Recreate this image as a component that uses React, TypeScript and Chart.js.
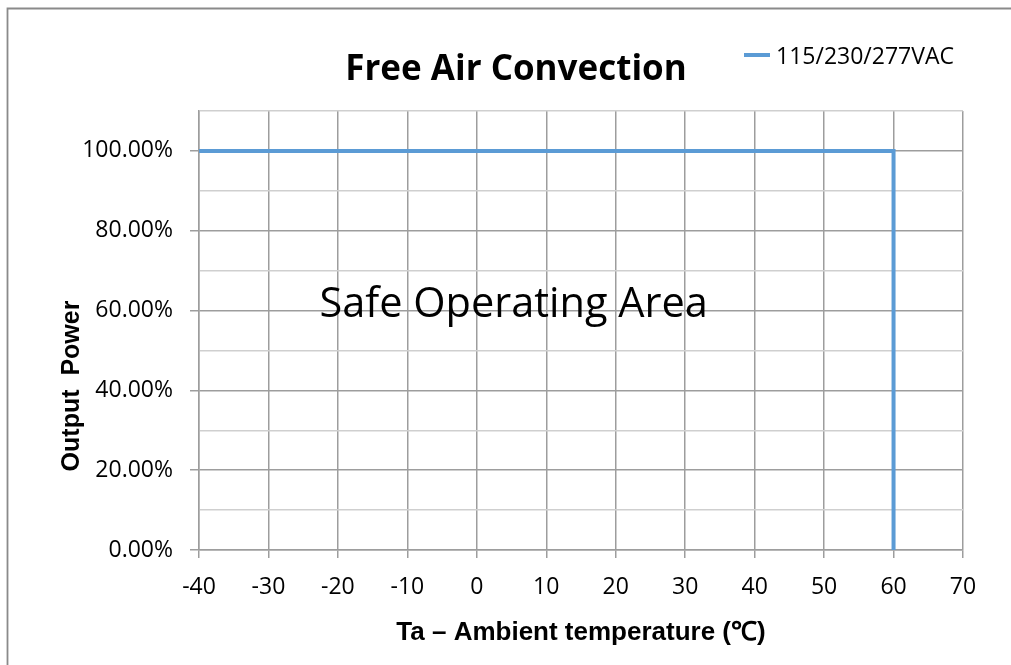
import React, { useEffect, useRef } from "react";
import { Chart, registerables } from "chart.js";

Chart.register(...registerables);

const seriesName = "115/230/277VAC";
const tempValues = [-40, 60, 60];
const powerValues = [100, 100, 0];
const chartTitle = "Free Air Convection";
const xAxisTitle = "Ta – Ambient temperature (℃)";
const yAxisTitle = "Output  Power";
const annotationText = "Safe Operating Area";
const annotationX = 5.3;
const annotationY = 58.4;

const W = 1011;
const H = 665;
const LINE_COLOR = "#5B9BD5";
const MAJOR = "#9d9d9d";
const MINOR = "#cfcfcf";
const TICK_FONT = "'Open Sans', sans-serif";
const AXIS_FONT = "'Liberation Sans', Arial, sans-serif";

const decorPlugin = {
  id: "decor",
  beforeDraw(chart: any) {
    const ctx = chart.ctx;
    ctx.save();
    ctx.fillStyle = "#ffffff";
    ctx.fillRect(0, 0, W, H);
    ctx.strokeStyle = "#8a8a8a";
    ctx.lineWidth = 1.8;
    ctx.beginPath();
    ctx.moveTo(7.5, H + 5);
    ctx.lineTo(7.5, 8.5);
    ctx.lineTo(W + 5, 8.5);
    ctx.stroke();
    ctx.restore();
  },
  afterDraw(chart: any) {
    const ctx = chart.ctx;
    const xs = chart.scales.x;
    const ys = chart.scales.y;
    ctx.save();
    // title
    ctx.fillStyle = "#000000";
    ctx.font = `bold 35px ${TICK_FONT}`;
    ctx.textAlign = "center";
    ctx.textBaseline = "alphabetic";
    ctx.fillText(chartTitle, 516, 80);
    // legend
    ctx.strokeStyle = LINE_COLOR;
    ctx.lineWidth = 4;
    ctx.beginPath();
    ctx.moveTo(744, 55);
    ctx.lineTo(770, 55);
    ctx.stroke();
    ctx.font = `23px ${TICK_FONT}`;
    ctx.textAlign = "left";
    ctx.fillText(seriesName, 776, 64);
    // annotation
    ctx.font = `41.5px ${TICK_FONT}`;
    ctx.textAlign = "center";
    ctx.fillText(
      annotationText,
      xs.getPixelForValue(annotationX),
      ys.getPixelForValue(annotationY)
    );
    // y axis title
    ctx.font = `bold 25px ${AXIS_FONT}`;
    ctx.translate(72, 386);
    ctx.rotate(-Math.PI / 2);
    ctx.textAlign = "center";
    ctx.textBaseline = "middle";
    ctx.fillText(yAxisTitle, 0, 0);
    ctx.restore();
  },
};

export default function App() {
  const ref = useRef<HTMLCanvasElement | null>(null);

  useEffect(() => {
    if (!ref.current) return;
    const chart = new Chart(ref.current, {
      type: "line",
      data: {
        datasets: [
          {
            label: seriesName,
            data: tempValues.map((t, i) => ({ x: t, y: powerValues[i] })),
            borderColor: LINE_COLOR,
            backgroundColor: LINE_COLOR,
            borderWidth: 4,
            pointRadius: 0,
            tension: 0,
            fill: false,
          },
        ],
      },
      options: {
        responsive: false,
        animation: false,
        devicePixelRatio: 1,
        layout: { padding: { left: 0, top: 111, right: 48, bottom: 0 } },
        plugins: {
          legend: { display: false },
          title: { display: false },
          tooltip: { enabled: false },
        },
        scales: {
          x: {
            type: "linear",
            min: -40,
            max: 70,
            afterFit: (s: any) => {
              s.height = 115;
            },
            ticks: {
              stepSize: 10,
              padding: 16,
              color: "#000000",
              font: { family: TICK_FONT, size: 23 },
              maxRotation: 0,
            },
            grid: {
              color: MAJOR,
              lineWidth: 1.5,
              tickLength: 8,
              tickColor: MAJOR,
            },
            border: { color: MAJOR, width: 1.5 },
            title: {
              display: true,
              text: xAxisTitle,
              color: "#000000",
              font: { family: AXIS_FONT, size: 26, weight: "bold" },
              padding: { top: 0, bottom: 17 },
            },
          },
          y: {
            min: 0,
            max: 110,
            afterFit: (s: any) => {
              s.width = 199;
            },
            ticks: {
              stepSize: 10,
              padding: 17,
              color: "#000000",
              font: { family: TICK_FONT, size: 23 },
              callback: (v: any) =>
                Number(v) % 20 === 0 ? Number(v).toFixed(2) + "%" : "",
            },
            grid: {
              color: (c: any) =>
                c.tick && c.tick.value % 20 === 0 ? MAJOR : MINOR,
              lineWidth: 1.5,
              tickLength: 9,
              tickColor: (c: any) =>
                c.tick && c.tick.value % 20 === 0 ? MAJOR : "rgba(0,0,0,0)",
            },
            border: { color: MAJOR, width: 1.5 },
          },
        },
      },
      plugins: [decorPlugin],
    });
    return () => chart.destroy();
  }, []);

  return (
    <div style={{ position: "absolute", left: 0, top: 0, width: W, height: H }}>
      <canvas ref={ref} width={W} height={H} style={{ display: "block" }} />
    </div>
  );
}
